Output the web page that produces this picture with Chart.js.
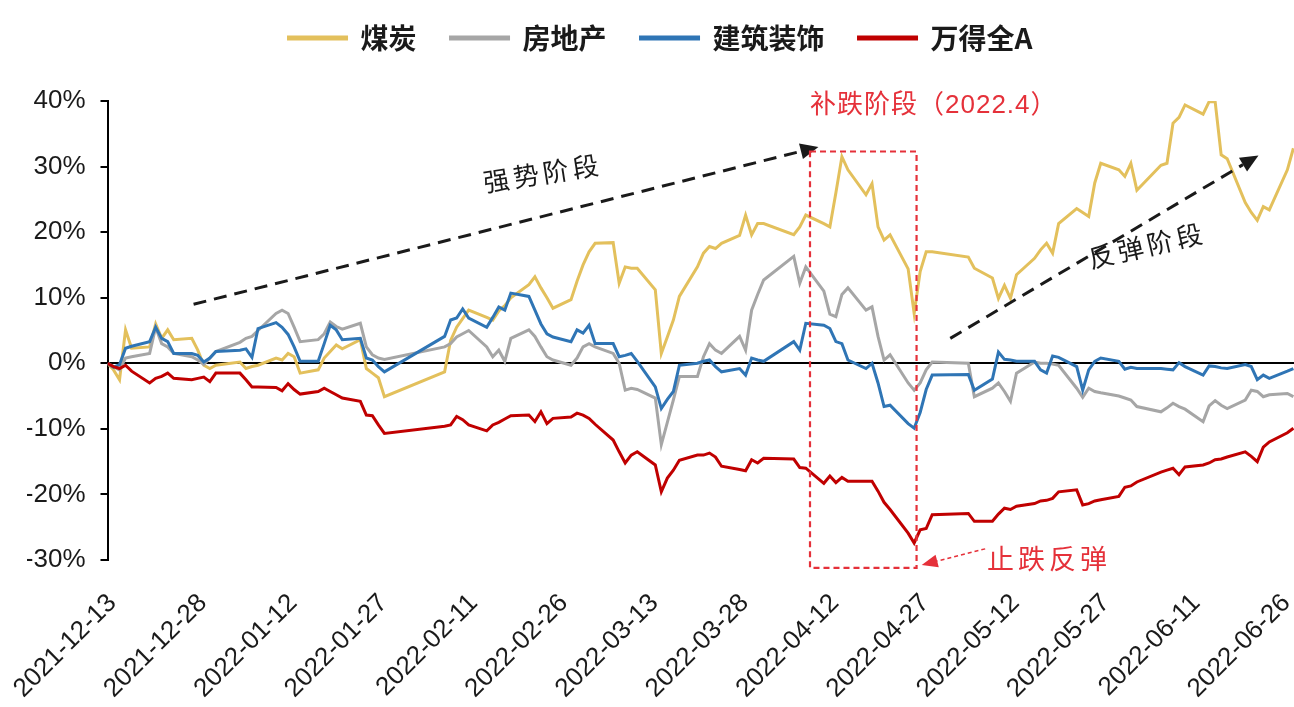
<!DOCTYPE html>
<html>
<head>
<meta charset="utf-8">
<script src="https://cdn.jsdelivr.net/npm/chart.js@4.4.1/dist/chart.umd.min.js"></script>
<style>
  html, body { margin: 0; padding: 0; background: #ffffff; }
  #wrap { width: 1294px; height: 707px; position: relative; }
</style>
</head>
<body>
<div id="wrap"><canvas id="c"></canvas></div>
<script>
// ---------------- data ----------------
const dates = [
  '2021-12-13','2021-12-14','2021-12-15','2021-12-16','2021-12-17','2021-12-20','2021-12-21','2021-12-22','2021-12-23','2021-12-24','2021-12-27','2021-12-28','2021-12-29','2021-12-30','2021-12-31',
  '2022-01-04','2022-01-05','2022-01-06','2022-01-07','2022-01-10','2022-01-11','2022-01-12','2022-01-13','2022-01-14','2022-01-17','2022-01-18','2022-01-19','2022-01-20','2022-01-21','2022-01-24','2022-01-25','2022-01-26','2022-01-27','2022-01-28',
  '2022-02-07','2022-02-08','2022-02-09','2022-02-10','2022-02-11','2022-02-14','2022-02-15','2022-02-16','2022-02-17','2022-02-18','2022-02-21','2022-02-22','2022-02-23','2022-02-24','2022-02-25','2022-02-28',
  '2022-03-01','2022-03-02','2022-03-03','2022-03-04','2022-03-07','2022-03-08','2022-03-09','2022-03-10','2022-03-11','2022-03-14','2022-03-15','2022-03-16','2022-03-17','2022-03-18','2022-03-21','2022-03-22','2022-03-23','2022-03-24','2022-03-25','2022-03-28','2022-03-29','2022-03-30','2022-03-31',
  '2022-04-01','2022-04-06','2022-04-07','2022-04-08','2022-04-11','2022-04-12','2022-04-13','2022-04-14','2022-04-15','2022-04-18','2022-04-19','2022-04-20','2022-04-21','2022-04-22','2022-04-25','2022-04-26','2022-04-27','2022-04-28','2022-04-29',
  '2022-05-05','2022-05-06','2022-05-09','2022-05-10','2022-05-11','2022-05-12','2022-05-13','2022-05-16','2022-05-17','2022-05-18','2022-05-19','2022-05-20','2022-05-23','2022-05-24','2022-05-25','2022-05-26','2022-05-27','2022-05-30','2022-05-31',
  '2022-06-01','2022-06-02','2022-06-06','2022-06-07','2022-06-08','2022-06-09','2022-06-10','2022-06-13','2022-06-14','2022-06-15','2022-06-16','2022-06-17','2022-06-20','2022-06-21','2022-06-22','2022-06-23','2022-06-24','2022-06-27','2022-06-28'
];

const seriesNames = ['煤炭', '房地产', '建筑装饰', '万得全A'];

// 煤炭 (%)
const coal = [
  0, -1.0, -2.5, 5.1, 2.3, 2.5, 6.0, 3.8, 5.1, 3.6, 3.8, 2.0, -0.3, -0.8, -0.3,
  0.2, -0.8, -0.5, -0.3, 0.8, 0.5, 1.5, 1.0, -1.5, -1.0, 0.8, 1.8, 2.8, 2.2, 3.6, -0.8, -1.5, -2.2, -5.1,
  -1.3, 3.5, 5.5, 6.8, 8.1, 7.0, 6.6, 8.0, 8.8, 10.0, 12.0, 13.2, 11.5, 10.0, 8.4, 9.7,
  12.5, 15.0, 17.0, 18.3, 18.4, 12.2, 14.7, 14.5, 14.5, 11.2, 1.5, 4.0, 6.6, 10.2, 14.7, 16.8, 17.8, 17.5, 18.3, 19.5, 22.6, 19.6, 21.3,
  21.3, 19.6, 20.8, 22.6, 21.3, 20.8, 26.0, 31.5, 29.5, 25.7, 27.4, 20.8, 18.8, 19.6, 14.4, 7.6, 14.0, 17.0, 17.0,
  16.2, 14.5, 13.0, 9.9, 11.9, 9.9, 13.5, 16.0, 17.3, 18.3, 16.8, 21.3, 23.6, 23.0, 22.4, 27.5, 30.5, 29.5, 28.5,
  30.5, 26.4, 30.2, 30.5, 36.6, 37.5, 39.4, 38.0, 39.9, 39.9, 31.8, 31.2, 24.5, 23.0, 21.8, 23.9, 23.4, 29.5, 32.8
];

// 房地产 (%)
const realEstate = [
  0, -0.5, -1.0, 0.8, 1.0, 1.5, 5.5, 3.0, 2.5, 1.5, 1.0, 0.5, -0.2, 0.8, 1.8,
  3.2, 3.8, 4.1, 5.0, 7.6, 8.1, 7.6, 5.5, 3.3, 3.6, 4.5, 6.3, 5.6, 5.2, 6.1, 2.5, 1.3, 0.8, 0.6,
  2.5, 3.0, 4.0, 4.5, 5.0, 2.5, 1.0, 2.0, 0.3, 3.8, 5.1, 4.1, 2.5, 1.0, 0.5, -0.3,
  0.8, 2.5, 3.0, 2.5, 1.5, 0, -4.1, -3.8, -4.0, -5.3, -12.4, -9.0, -5.6, -2.0, -2.0, 1.0, 3.0, 2.0, 1.5, 4.1, 2.0, 8.1, 10.5,
  12.7, 16.3, 12.2, 14.7, 11.0, 7.5, 7.1, 10.5, 11.5, 8.1, 8.6, 4.1, 0.5, 1.3, -3.0, -4.1, -3.0, -1.0, 0.2,
  0, -5.1, -3.8, -3.0, -4.3, -5.8, -1.5, 0.2, 0, 0, -0.1, -0.3, -3.8, -5.2, -3.8, -4.3, -4.5, -5.0, -5.3,
  -5.6, -6.6, -7.4, -6.8, -6.1, -6.6, -7.0, -8.9, -6.5, -5.7, -6.4, -6.9, -5.6, -4.1, -4.3, -5.1, -4.8, -4.6, -5.1
];

// 建筑装饰 (%)
const construction = [
  0, -0.6, -0.2, 2.3, 2.6, 3.3, 5.5, 3.8, 3.3, 1.5, 1.5, 1.2, 0.2, 0.8, 1.8,
  2.0, 2.2, 0.9, 5.3, 6.2, 5.5, 4.4, 2.5, 0.3, 0.3, 3.0, 5.8, 5.1, 3.6, 3.8, 0.8, 0.5, -0.5, -1.3,
  4.1, 6.6, 6.9, 8.3, 6.9, 5.5, 7.0, 8.6, 8.1, 10.7, 10.2, 8.1, 6.0, 4.5, 4.0, 3.3,
  5.1, 4.6, 5.8, 3.0, 3.0, 1.0, 1.2, 1.5, 0.3, -3.6, -6.9, -5.5, -4.3, -0.3, 0, 0.3, 0.5, -0.5, -1.3, -0.8, -1.8, 0.8, 0.5,
  0.3, 3.3, 2.0, 6.1, 5.8, 5.3, 3.3, 3.0, 0.5, -0.8, 0, -3.0, -6.6, -6.4, -9.2, -9.9, -7.5, -4.0, -1.8,
  -1.7, -4.1, -2.4, 1.7, 0.6, 0.5, 0.3, 0.3, -1.0, -1.5, 1.1, 0.9, -0.5, -4.1, -1.0, 0.3, 0.8, 0.3, -0.9,
  -0.6, -0.8, -0.8, -0.9, -1.0, 0.1, -0.5, -1.8, -0.4, -0.5, -0.7, -0.8, -0.2, -0.5, -2.5, -1.8, -2.3, -1.2, -0.8
];

// 万得全A (%)
const windA = [
  0, -0.5, -0.8, -0.3, -1.2, -3.0, -2.3, -2.0, -1.5, -2.3, -2.5, -2.3, -2.1, -2.8, -1.5,
  -1.5, -2.5, -3.6, -3.6, -3.7, -4.2, -3.1, -4.0, -4.7, -4.3, -3.8, -4.3, -4.8, -5.3, -5.8, -7.9, -8.0, -9.4, -10.7,
  -9.6, -9.4, -8.1, -8.6, -9.4, -10.3, -9.4, -9.0, -8.5, -8.0, -7.9, -8.9, -7.4, -9.2, -8.4, -8.2,
  -7.6, -7.9, -8.4, -9.3, -11.7, -13.5, -15.2, -14.0, -13.5, -15.5, -19.6, -17.5, -16.3, -14.8, -14.0, -14.0, -13.7, -14.3, -15.7, -16.2, -16.4, -14.7, -15.2,
  -14.5, -14.6, -15.9, -16.0, -18.3, -17.2, -18.2, -17.4, -18.0, -18.0, -18.0, -19.5, -21.2, -22.3, -25.9, -27.4, -25.4, -25.2, -23.1,
  -22.9, -24.1, -24.1, -23.0, -22.1, -22.3, -21.8, -21.4, -21.0, -20.9, -20.6, -19.6, -19.3, -21.6, -21.4, -21.0, -20.8, -20.3, -18.9,
  -18.7, -18.1, -16.6, -16.3, -16.0, -17.0, -15.8, -15.5, -15.2, -14.7, -14.6, -14.3, -13.5, -14.2, -15.0, -12.8, -12.0, -10.6, -9.9
];

const xTickDates = ['2021-12-13','2021-12-28','2022-01-12','2022-01-27','2022-02-11','2022-02-26','2022-03-13','2022-03-28','2022-04-12','2022-04-27','2022-05-12','2022-05-27','2022-06-11','2022-06-26'];
const yMin = -30, yMax = 40, yStep = 10;

// ---------------- helpers ----------------
const BASE = Date.UTC(2021, 11, 13);
function dayOf(s) {
  const [y, m, d] = s.split('-').map(Number);
  return Math.round((Date.UTC(y, m - 1, d) - BASE) / 86400000);
}
function toPoints(vals) { return vals.map((v, i) => ({ x: dayOf(dates[i]), y: v })); }

const colors = ['#E3C05C', '#A6A6A6', '#2F75B5', '#C00000'];

// annotation placements (in data coordinates: day index, percent)
const notes = {
  strongArrow: { from: [14.3, 9.0], to: [118.1, 33.0] },
  reboundArrow: { from: [140.0, 3.8], to: [191.2, 31.7] },
  box: { x1: 116.7, x2: 134.4, yTop: 32.3, yBottom: -31.2 },
  boxTitle: { x: 116.7, y: 39.2, text: '补跌阶段（2022.4）' },
  strongText: { x: 72.3, y: 29.0, text: '强势阶段', angle: -9 },
  reboundText: { x: 172.7, y: 18.0, text: '反弹阶段', angle: -13 },
  stopText: { x: 146.1, y: -29.8, text: '止跌反弹' },
  stopArrow: { from: [145.8, -28.3], to: [135.25, -30.76] }
};

function arrow(ctx, x1, y1, x2, y2, color, width, dash, headLen, headW) {
  const a = Math.atan2(y2 - y1, x2 - x1);
  const bx = x2 - headLen * Math.cos(a), by = y2 - headLen * Math.sin(a);
  ctx.save();
  ctx.strokeStyle = color; ctx.lineWidth = width; ctx.setLineDash(dash);
  ctx.beginPath(); ctx.moveTo(x1, y1); ctx.lineTo(bx, by); ctx.stroke();
  ctx.setLineDash([]);
  ctx.fillStyle = color;
  ctx.beginPath();
  ctx.moveTo(x2, y2);
  ctx.lineTo(bx + headW / 2 * Math.sin(a), by - headW / 2 * Math.cos(a));
  ctx.lineTo(bx - headW / 2 * Math.sin(a), by + headW / 2 * Math.cos(a));
  ctx.closePath(); ctx.fill();
  ctx.restore();
}
function text(ctx, t, x, y, o) {
  ctx.save();
  ctx.translate(x, y);
  ctx.rotate((o.angle || 0) * Math.PI / 180);
  ctx.font = o.font; ctx.fillStyle = o.color;
  ctx.textBaseline = 'middle'; ctx.textAlign = o.align || 'center';
  if ('letterSpacing' in ctx) ctx.letterSpacing = (o.spacing || 0) + 'px';
  ctx.fillText(t, 0, 0);
  ctx.restore();
}

const notesPlugin = {
  id: 'notes',
  afterDatasetsDraw(chart) {
    const { ctx, scales: { x, y } } = chart;
    const px = v => x.getPixelForValue(v), py = v => y.getPixelForValue(v);
    const red = '#E5313A', black = '#1a1a1a';
    let a = notes.strongArrow;
    arrow(ctx, px(a.from[0]), py(a.from[1]), px(a.to[0]), py(a.to[1]), black, 3, [13, 8], 18, 16);
    a = notes.reboundArrow;
    arrow(ctx, px(a.from[0]), py(a.from[1]), px(a.to[0]), py(a.to[1]), black, 3, [13, 8], 18, 16);
    const b = notes.box;
    ctx.save();
    ctx.strokeStyle = red; ctx.lineWidth = 2.2; ctx.setLineDash([6, 4]);
    ctx.strokeRect(px(b.x1), py(b.yTop), px(b.x2) - px(b.x1), py(b.yBottom) - py(b.yTop));
    ctx.restore();
    a = notes.stopArrow;
    arrow(ctx, px(a.from[0]), py(a.from[1]), px(a.to[0]), py(a.to[1]), red, 1.5, [4, 3], 16, 13);
    let t = notes.boxTitle;
    text(ctx, t.text, px(t.x), py(t.y), { font: "26px 'Liberation Sans', 'Noto Sans CJK SC'", color: red, align: 'left', spacing: 1 });
    t = notes.strongText;
    text(ctx, t.text, px(t.x), py(t.y), { font: "26px 'Noto Sans CJK SC'", color: black, angle: t.angle, spacing: 4 });
    t = notes.reboundText;
    text(ctx, t.text, px(t.x), py(t.y), { font: "26px 'Noto Sans CJK SC'", color: black, angle: t.angle, spacing: 4 });
    t = notes.stopText;
    text(ctx, t.text, px(t.x), py(t.y), { font: "27px 'Noto Sans CJK SC'", color: red, align: 'left', spacing: 4 });
  }
};

Chart.defaults.font.family = "'Liberation Sans', 'Noto Sans CJK SC', sans-serif";

new Chart(document.getElementById('c'), {
  type: 'line',
  data: {
    datasets: [
      { label: seriesNames[0], data: toPoints(coal), borderColor: colors[0], backgroundColor: colors[0], order: 3 },
      { label: seriesNames[1], data: toPoints(realEstate), borderColor: colors[1], backgroundColor: colors[1], order: 2 },
      { label: seriesNames[2], data: toPoints(construction), borderColor: colors[2], backgroundColor: colors[2], order: 1 },
      { label: seriesNames[3], data: toPoints(windA), borderColor: colors[3], backgroundColor: colors[3], order: 0 }
    ]
  },
  options: {
    responsive: true,
    maintainAspectRatio: false,
    animation: false,
    devicePixelRatio: 1,
    elements: { point: { radius: 0, hoverRadius: 0 }, line: { borderWidth: 3, tension: 0 } },
    layout: { padding: { top: -10, left: 27, right: 0, bottom: 0 }, autoPadding: false },
    plugins: {
      legend: {
        position: 'top',
        labels: {
          boxWidth: 58, boxHeight: 2, padding: 34, color: '#1a1a1a',
          font: { size: 28, weight: 'bold', family: "'Noto Sans CJK SC'" },
          sort: (p, q) => p.datasetIndex - q.datasetIndex
        }
      },
      title: { display: true, text: '', weight: 500, padding: 0, font: { size: 39, lineHeight: 1 } },
      tooltip: { enabled: false }
    },
    scales: {
      x: {
        type: 'linear', min: 0, max: 197.1,
        grid: { display: false }, border: { display: false },
        afterBuildTicks: s => { s.ticks = xTickDates.map(d => ({ value: dayOf(d) })); },
        afterFit: s => { s.height = 147; s.paddingLeft = 0; s.paddingRight = 0; },
        ticks: {
          autoSkip: false, minRotation: 45, maxRotation: 45, padding: 20, labelOffset: 5,
          color: '#1a1a1a', font: { size: 26 },
          callback: v => { const f = xTickDates.find(d => dayOf(d) === v); return f || ''; }
        }
      },
      y: {
        min: yMin, max: yMax,
        afterFit: s => { s.width = 80.5; s.paddingTop = 0; s.paddingBottom = 0; },
        ticks: { stepSize: yStep, padding: 15, color: '#1a1a1a', font: { size: 26 }, callback: v => v + '%' },
        grid: {
          drawTicks: true, tickLength: 7, tickColor: '#000', tickWidth: 2, lineWidth: 2,
          color: c => (c.tick && c.tick.value === 0) ? '#000' : 'rgba(0,0,0,0)'
        },
        border: { display: true, color: '#000', width: 2 }
      }
    }
  },
  plugins: [notesPlugin]
});
</script>
</body>
</html>
